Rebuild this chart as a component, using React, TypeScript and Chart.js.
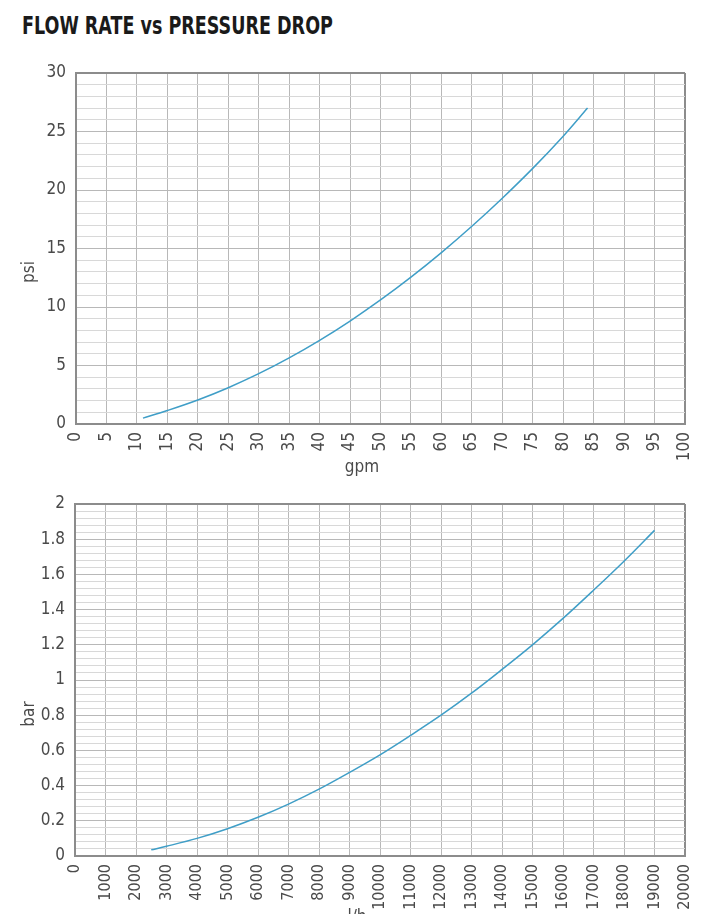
import React, { useEffect, useRef } from 'react';
import { Chart, registerables } from 'chart.js';

Chart.register(...registerables);

const FONT = "'Liberation Sans Narrow', 'Arial Narrow', 'DejaVu Sans Condensed', sans-serif";

const chartTitle = 'FLOW RATE vs PRESSURE DROP';

// Top chart: flow (gpm) vs pressure drop (psi)
const gpmValues = [11, 15, 20, 25, 30, 35, 40, 45, 50, 55, 60, 65, 70, 75, 80, 84];
const psiValues = [0.5, 1.15, 2.05, 3.1, 4.3, 5.65, 7.15, 8.8, 10.6, 12.55, 14.65, 16.9, 19.3, 21.85, 24.6, 27.0];

// Bottom chart: flow (l/h) vs pressure drop (bar)
const lphValues = [2500, 3000, 4000, 5000, 6000, 7000, 8000, 9000, 10000, 11000, 12000, 13000, 14000, 15000, 16000, 17000, 18000, 19000];
const barValues = [0.035, 0.055, 0.1, 0.155, 0.22, 0.295, 0.38, 0.475, 0.575, 0.685, 0.8, 0.925, 1.06, 1.2, 1.35, 1.51, 1.675, 1.85];

// axis ranges: [min, max, grid step, label step]
const gpmRange = [0, 100, 5, 5];
const psiRange = [0, 30, 1, 5];
const lphRange = [0, 20000, 1000, 1000];
const barRange = [0, 2, 0.04, 0.2];

const LINE = '#3f9ec7';
const BORDER = '#8c8c8c';
const MAJOR = '#b8b8b8';
const MINOR = '#d8d8d8';
const TEXT = '#4a4a4a';

const axisTitlePlugin = {
  id: 'axisTitles',
  afterDraw(chart: any, _args: any, opts: any) {
    const { ctx, chartArea } = chart;
    ctx.save();
    ctx.fillStyle = opts.color;
    ctx.font = `${opts.size}px ${FONT}`;
    ctx.textAlign = 'center';
    ctx.textBaseline = 'middle';
    ctx.fillText(opts.x.text, chartArea.left + opts.x.dx, chartArea.bottom + opts.x.dy);
    ctx.translate(chartArea.left + opts.y.dx, chartArea.top + opts.y.dy);
    ctx.rotate(-Math.PI / 2);
    ctx.fillText(opts.y.text, 0, 0);
    ctx.restore();
  },
};

type Props = {
  xs: number[];
  ys: number[];
  xr: number[];
  yr: number[];
  xTitle: string;
  yTitle: string;
  top: number;
  height: number;
  padTop: number;
  padRight: number;
  yAxisWidth: number;
  xAxisHeight: number;
  xTickSize: number;
  xT: { dx: number; dy: number };
  yT: { dx: number; dy: number };
};

const isMult = (v: number, m: number) => Math.abs(v / m - Math.round(v / m)) < 1e-6;

const tickList = (r: number[]) => {
  const n = Math.round((r[1] - r[0]) / r[2]);
  const out: { value: number }[] = [];
  for (let i = 0; i <= n; i++) out.push({ value: parseFloat((r[0] + i * r[2]).toFixed(4)) });
  return out;
};

function FlowChart(p: Props) {
  const ref = useRef<HTMLCanvasElement | null>(null);
  useEffect(() => {
    if (!ref.current) return;
    const data = p.xs.map((x, i) => ({ x, y: p.ys[i] }));
    const chart = new Chart(ref.current, {
      type: 'line',
      data: {
        datasets: [
          {
            data,
            borderColor: LINE,
            borderWidth: 1.5,
            pointRadius: 0,
            tension: 0.35,
            fill: false,
          },
        ],
      },
      plugins: [axisTitlePlugin],
      options: {
        animation: false,
        responsive: false,
        devicePixelRatio: 1,
        layout: { padding: { top: p.padTop, right: p.padRight, left: 0, bottom: 0 } },
        plugins: {
          legend: { display: false },
          tooltip: { enabled: false },
          axisTitles: {
            color: TEXT,
            size: 17,
            x: { text: p.xTitle, ...p.xT },
            y: { text: p.yTitle, ...p.yT },
          },
        } as any,
        scales: {
          x: {
            type: 'linear',
            min: p.xr[0],
            max: p.xr[1],
            afterBuildTicks: (s: any) => {
              s.ticks = tickList(p.xr);
            },
            afterFit: (s: any) => {
              s.height = p.xAxisHeight;
              s.paddingLeft = 0;
              s.paddingRight = 0;
            },
            ticks: {
              autoSkip: false,
              minRotation: 90,
              maxRotation: 90,
              padding: 8,
              color: TEXT,
              font: { family: FONT, size: p.xTickSize },
              callback: (v: any) => (isMult(Number(v), p.xr[3]) ? String(v) : ''),
            },
            grid: {
              drawTicks: false,
              color: (c: any) => (c.tick && c.tick.value === p.xr[1] ? BORDER : MAJOR),
              lineWidth: (c: any) => (c.tick && c.tick.value === p.xr[1] ? 2 : 1),
            },
            border: { display: true, color: BORDER, width: 2 },
          },
          y: {
            type: 'linear',
            min: p.yr[0],
            max: p.yr[1],
            afterBuildTicks: (s: any) => {
              s.ticks = tickList(p.yr);
            },
            afterFit: (s: any) => {
              s.width = p.yAxisWidth;
              s.paddingTop = 0;
              s.paddingBottom = 0;
            },
            ticks: {
              autoSkip: false,
              padding: 10,
              color: TEXT,
              font: { family: FONT, size: 17 },
              callback: (v: any) => (isMult(Number(v), p.yr[3]) ? String(parseFloat(Number(v).toFixed(2))) : ''),
            },
            grid: {
              drawTicks: false,
              color: (c: any) => {
                const v = c.tick ? c.tick.value : 0;
                if (Math.abs(v - p.yr[1]) < 1e-6) return BORDER;
                return isMult(v, p.yr[3]) ? MAJOR : MINOR;
              },
              lineWidth: (c: any) => (c.tick && Math.abs(c.tick.value - p.yr[1]) < 1e-6 ? 2 : 1),
            },
            border: { display: true, color: BORDER, width: 2 },
          },
        },
      } as any,
    });
    return () => chart.destroy();
  }, []);
  return (
    <canvas
      ref={ref}
      width={708}
      height={p.height}
      style={{ position: 'absolute', left: 0, top: p.top, width: 708, height: p.height, display: 'block' }}
    />
  );
}

export default function App() {
  return (
    <div
      style={{
        position: 'absolute',
        left: 0,
        top: 0,
        width: 708,
        height: 914,
        overflow: 'hidden',
        background: '#ffffff',
      }}
    >
      <div
        style={{
          position: 'absolute',
          left: 22,
          top: 11,
          fontFamily: FONT,
          fontWeight: 'bold',
          fontSize: 25,
          lineHeight: '30px',
          color: '#1a1a1a',
          whiteSpace: 'nowrap',
          transform: 'scaleX(0.78)',
          transformOrigin: '0 0',
        }}
      >
        {chartTitle}
      </div>
      <FlowChart
        xs={gpmValues}
        ys={psiValues}
        xr={gpmRange}
        yr={psiRange}
        xTitle="gpm"
        yTitle="psi"
        top={50}
        height={440}
        padTop={23}
        padRight={23}
        yAxisWidth={76}
        xAxisHeight={66}
        xTickSize={17}
        xT={{ dx: 286, dy: 44 }}
        yT={{ dx: -46, dy: 199 }}
      />
      <FlowChart
        xs={lphValues}
        ys={barValues}
        xr={lphRange}
        yr={barRange}
        xTitle="l/h"
        yTitle="bar"
        top={480}
        height={460}
        padTop={24}
        padRight={23}
        yAxisWidth={75}
        xAxisHeight={84}
        xTickSize={16}
        xT={{ dx: 282, dy: 62 }}
        yT={{ dx: -45, dy: 210 }}
      />
    </div>
  );
}
